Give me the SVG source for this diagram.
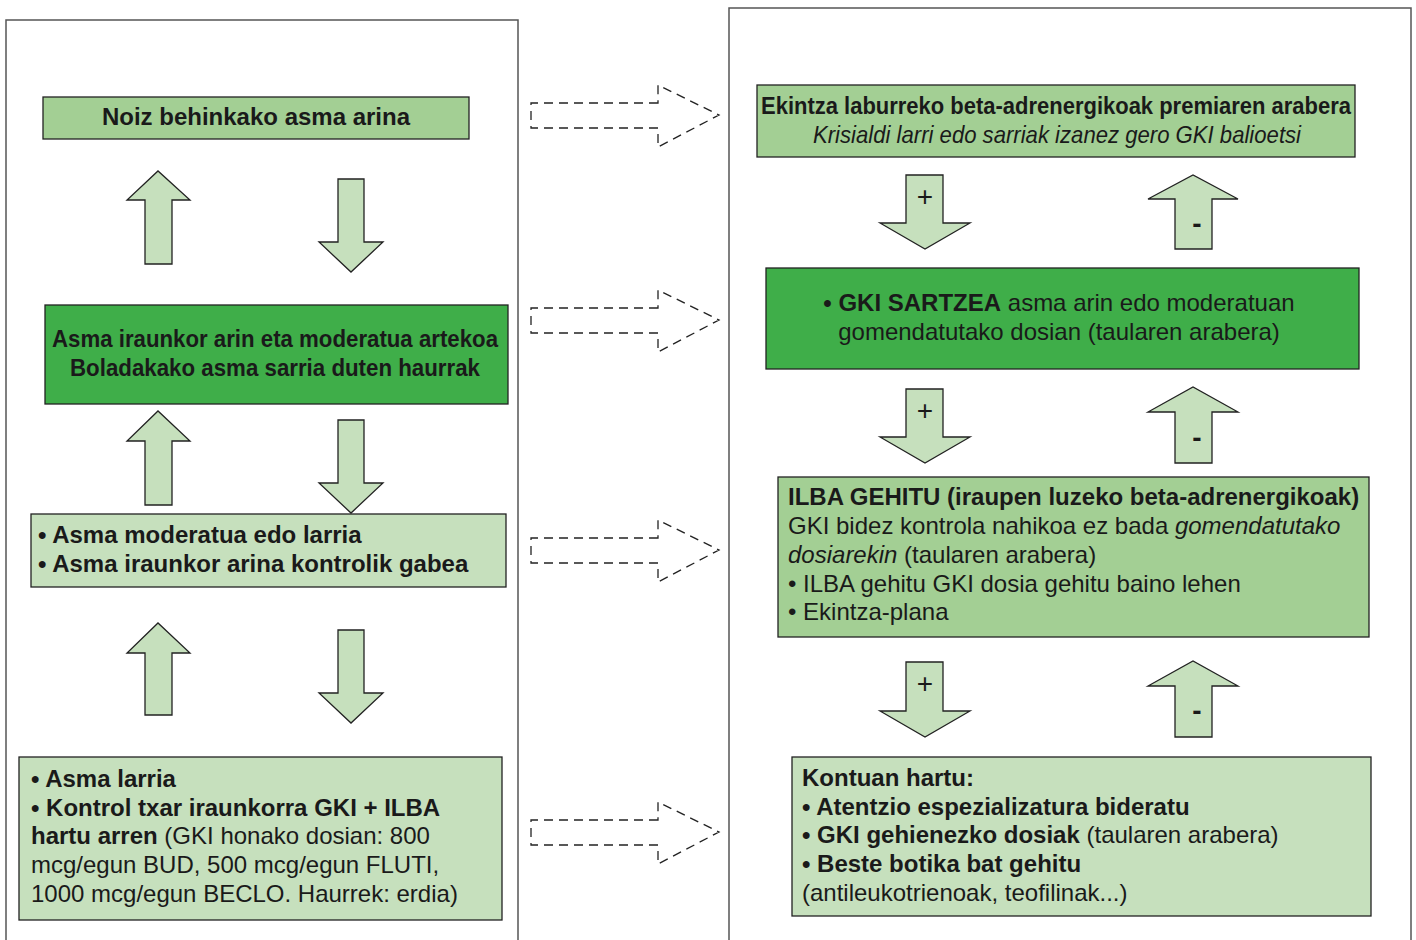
<svg xmlns="http://www.w3.org/2000/svg" width="1416" height="940" viewBox="0 0 1416 940">
<style>
.panel{fill:#fff;stroke:#555;stroke-width:1.5}
.mid{fill:#a3cf94;stroke:#222;stroke-width:1.3}
.dark{fill:#3fae49;stroke:#222;stroke-width:1.3}
.light{fill:#c6e0bd;stroke:#222;stroke-width:1.3}
.arr{fill:#c6e0bd;stroke:#222;stroke-width:1.3;stroke-linejoin:miter}
.dash{fill:none;stroke:#222;stroke-width:1.3;stroke-dasharray:9,6}
text{font-family:"Liberation Sans",Arial,sans-serif;font-size:24px;fill:#1a1a1a}
.b{font-weight:bold}
.i{font-style:italic}
.sign{font-size:28px}
</style>
<rect width="1416" height="940" fill="#fff"/>
<rect class="panel" x="6" y="20" width="512" height="930"/>
<rect class="panel" x="729" y="8" width="682" height="942"/>

<g id="connectors">
  <g id="left-arrows">
    <polygon class="arr" points="145,264 145,200 127,200 158,171 190,200 172,200 172,264"/>
    <polygon class="arr" points="338,179 364,179 364,242 383,242 351,272 319,242 338,242"/>
    <polygon class="arr" points="145,505 145,441 127,441 158,411 190,441 172,441 172,505"/>
    <polygon class="arr" points="338,420 364,420 364,483 383,483 351,513 319,483 338,483"/>
    <polygon class="arr" points="145,715 145,653 127,653 158,623 190,653 172,653 172,715"/>
    <polygon class="arr" points="338,630 364,630 364,693 383,693 351,723 319,693 338,693"/>
  </g>
  <g id="right-arrows">
    <polygon class="arr" points="906,175 943,175 943,223 970,223 925,249 880,223 906,223"/>
    <polygon class="arr" points="1175,249 1175,199 1148,199 1193,175 1238,199 1212,199 1212,249"/>
    <polygon class="arr" points="906,389 943,389 943,437 970,437 925,463 880,437 906,437"/>
    <polygon class="arr" points="1175,463 1175,412 1148,412 1193,387 1238,412 1212,412 1212,463"/>
    <polygon class="arr" points="906,662 943,662 943,711 970,711 925,737 880,711 906,711"/>
    <polygon class="arr" points="1175,737 1175,686 1148,686 1193,661 1238,686 1212,686 1212,737"/>
    <text class="sign" x="925" y="206" text-anchor="middle">+</text>
    <text class="sign" x="925" y="420" text-anchor="middle">+</text>
    <text class="sign" x="925" y="693" text-anchor="middle">+</text>
    <text class="sign b" x="1197" y="233" text-anchor="middle">-</text>
    <text class="sign b" x="1197" y="447" text-anchor="middle">-</text>
    <text class="sign b" x="1197" y="720" text-anchor="middle">-</text>
  </g>
  <g id="dashed-arrows">
    <path class="dash" d="M658,103 L531,103 L531,128 L658,128 L658,147 L719,115 L658,85 Z"/>
    <path class="dash" d="M658,308 L531,308 L531,333 L658,333 L658,352 L719,320 L658,290 Z"/>
    <path class="dash" d="M658,538 L531,538 L531,563 L658,563 L658,582 L719,550 L658,520 Z"/>
    <path class="dash" d="M658,820 L531,820 L531,845 L658,845 L658,864 L719,832 L658,802 Z"/>
  </g>
</g>

<g id="n1">
  <rect class="mid" x="43" y="97" width="426" height="42"/>
  <text class="b" x="256" y="125" text-anchor="middle">Noiz behinkako asma arina</text>
</g>
<g id="n2">
  <rect class="dark" x="45" y="305" width="463" height="99"/>
  <text class="b" x="52" y="347" textLength="446" lengthAdjust="spacingAndGlyphs">Asma iraunkor arin eta moderatua artekoa</text>
  <text class="b" x="70" y="376" textLength="410" lengthAdjust="spacingAndGlyphs">Boladakako asma sarria duten haurrak</text>
</g>
<g id="n3">
  <rect class="light" x="31" y="514" width="475" height="73"/>
  <text class="b" x="38" y="543">• Asma moderatua edo larria</text>
  <text class="b" x="38" y="572">• Asma iraunkor arina kontrolik gabea</text>
</g>
<g id="n4">
  <rect class="light" x="19" y="757" width="483" height="163"/>
  <text x="31" y="787"><tspan class="b">• Asma larria</tspan></text>
  <text x="31" y="816"><tspan class="b">• Kontrol txar iraunkorra GKI + ILBA</tspan></text>
  <text x="31" y="844"><tspan class="b">hartu arren</tspan> (GKI honako dosian: 800</text>
  <text x="31" y="873">mcg/egun BUD, 500 mcg/egun FLUTI,</text>
  <text x="31" y="902">1000 mcg/egun BECLO. Haurrek: erdia)</text>
</g>

<g id="r1">
  <rect class="mid" x="757" y="85" width="598" height="72"/>
  <text class="b" x="761" y="114" textLength="590" lengthAdjust="spacingAndGlyphs">Ekintza laburreko beta-adrenergikoak premiaren arabera</text>
  <text class="i" x="813" y="143" textLength="488" lengthAdjust="spacingAndGlyphs">Krisialdi larri edo sarriak izanez gero GKI balioetsi</text>
</g>
<g id="r2">
  <rect class="dark" x="766" y="268" width="593" height="101"/>
  <text x="1059" y="311" text-anchor="middle"><tspan class="b">• GKI SARTZEA</tspan> asma arin edo moderatuan</text>
  <text x="1059" y="340" text-anchor="middle">gomendatutako dosian (taularen arabera)</text>
</g>
<g id="r3">
  <rect class="mid" x="778" y="477" width="591" height="160"/>
  <text class="b" x="788" y="505">ILBA GEHITU (iraupen luzeko beta-adrenergikoak)</text>
  <text x="788" y="534">GKI bidez kontrola nahikoa ez bada <tspan class="i">gomendatutako</tspan></text>
  <text x="788" y="563"><tspan class="i">dosiarekin</tspan> (taularen arabera)</text>
  <text x="788" y="592">• ILBA gehitu GKI dosia gehitu baino lehen</text>
  <text x="788" y="620">• Ekintza-plana</text>
</g>
<g id="r4">
  <rect class="light" x="792" y="757" width="579" height="159"/>
  <text class="b" x="802" y="786">Kontuan hartu:</text>
  <text class="b" x="802" y="815">• Atentzio espezializatura bideratu</text>
  <text x="802" y="843"><tspan class="b">• GKI gehienezko dosiak</tspan> (taularen arabera)</text>
  <text class="b" x="802" y="872">• Beste botika bat gehitu</text>
  <text x="802" y="901">(antileukotrienoak, teofilinak...)</text>
</g>
</svg>
